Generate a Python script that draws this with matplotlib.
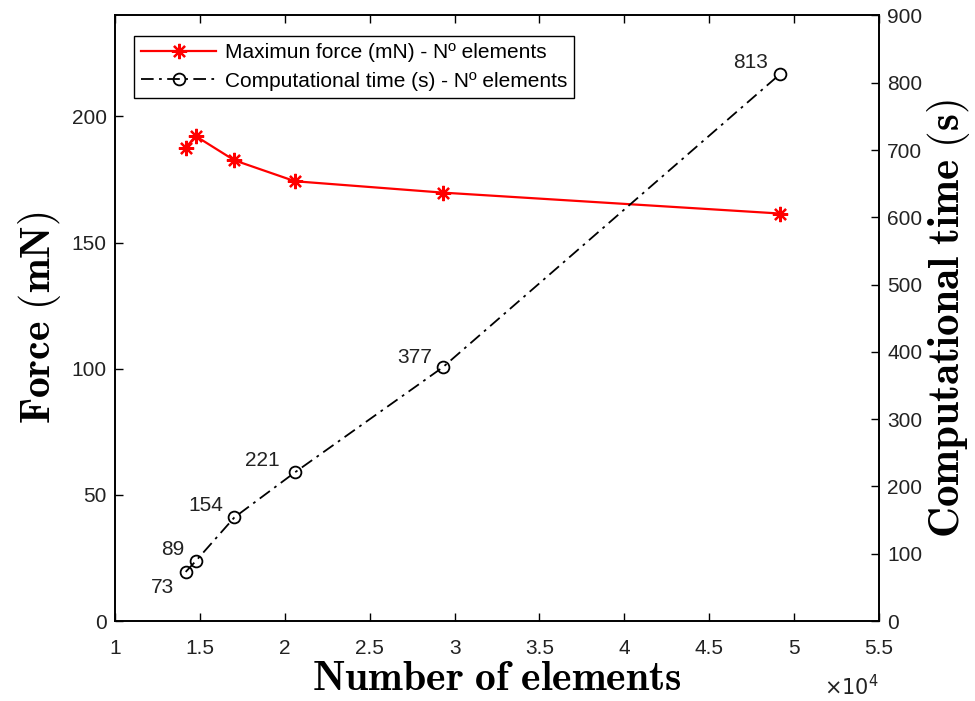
import matplotlib
matplotlib.use("Agg")
import matplotlib.pyplot as plt

plt.rcParams['font.family'] = ['Liberation Sans', 'DejaVu Sans']
plt.rcParams['mathtext.fontset'] = 'cm'

# Data (number of elements in units of 1e4)
elements = [1.416, 1.475, 1.703, 2.06, 2.93, 4.918]
force_mN = [187.6, 192.2, 182.6, 174.3, 169.8, 161.5]
time_s = [73, 89, 154, 221, 377, 813]
time_labels = ['73', '89', '154', '221', '377', '813']
label_offsets_px = [(-23, -16), (-23, 12), (-29, 12), (-33, 12), (-28, 10), (-30, 12)]

xticks = [1, 1.5, 2, 2.5, 3, 3.5, 4, 4.5, 5, 5.5]
xticklabels = ['1', '1.5', '2', '2.5', '3', '3.5', '4', '4.5', '5', '5.5']
left_ticks = [0, 50, 100, 150, 200]
right_ticks = [0, 100, 200, 300, 400, 500, 600, 700, 800, 900]

fig = plt.figure(figsize=(9.75, 7.01), dpi=100)
ax = fig.add_axes([0.118, 0.1141, 0.7835, 0.8638])
ax2 = ax.twinx()

l1, = ax.plot(elements, force_mN, color='red', marker=(8, 2, 0), markersize=11,
              markeredgewidth=1.6, linewidth=1.6,
              label='Maximun force (mN) - Nº elements')
l2, = ax2.plot(elements, time_s, color='black', marker='o', markersize=8.5,
               markerfacecolor='none', markeredgewidth=1.3,
               linestyle=(0, (7, 3, 1.5, 3)), linewidth=1.3,
               label='Computational time (s) - Nº elements')

for xv, yv, lab, off in zip(elements, time_s, time_labels, label_offsets_px):
    ax2.annotate(lab, (xv, yv), xytext=(off[0] * 0.72, off[1] * 0.72),
                 textcoords='offset points', ha='center', va='center',
                 fontsize=15, color='#222222')

ax.set_xlim(1, 5.5)
ax.set_ylim(0, 240)
ax2.set_ylim(0, 900)
ax.set_xticks(xticks)
ax.set_xticklabels(xticklabels)
ax.set_yticks(left_ticks)
ax2.set_yticks(right_ticks)

for a in (ax, ax2):
    a.tick_params(direction='in', length=6, width=1.0, labelsize=15,
                  colors='black', labelcolor='#222222')
    for s in a.spines.values():
        s.set_linewidth(1.2)
ax.tick_params(axis='x', top=True, pad=13)
ax.tick_params(axis='y', right=False, pad=6)
ax2.tick_params(axis='y', pad=6)

ax.set_xlabel(r'$\mathbf{Number\ of\ elements}$', fontsize=30, labelpad=1)
ax.set_ylabel(r'$\mathbf{Force\ (mN)}$', fontsize=30, labelpad=6)
ax2.set_ylabel(r'$\mathbf{Computational\ time\ (s)}$', fontsize=31, labelpad=2)

fig.text(0.845, 0.008, r'$\times 10^4$', fontsize=15, color='#222222',
         family='DejaVu Sans', math_fontfamily='dejavusans')

leg = ax.legend(handles=[l1, l2], loc='upper left', bbox_to_anchor=(0.0249, 0.966),
                fontsize=15, frameon=True, fancybox=False, edgecolor='black',
                framealpha=1, borderpad=0.35, handlelength=3.6, handletextpad=0.4,
                labelspacing=0.45, borderaxespad=0)
leg.get_frame().set_linewidth(1.0)

fig.savefig('out.png', dpi=100, facecolor='white')
